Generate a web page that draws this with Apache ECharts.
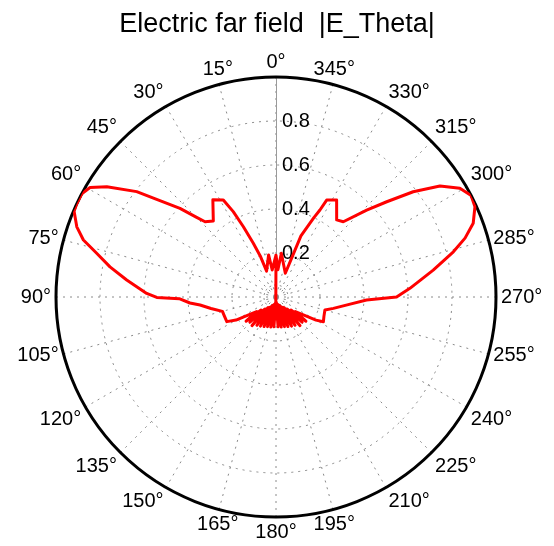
<!DOCTYPE html>
<html>
<head>
<meta charset="utf-8">
<script src="https://cdn.jsdelivr.net/npm/echarts@6/dist/echarts.min.js"></script>
<style>
  html, body { margin: 0; padding: 0; background: #ffffff; }
  #chart { width: 554px; height: 546px; }
</style>
</head>
<body>
<div id="chart"></div>
<script>
// Far-field pattern |E_Theta|, normalised; angle in degrees, counter-clockwise from the top.
const titleText = 'Electric far field  |E_Theta|';
const angleStep = 15;
const radiusStep = 0.2;
const innerRingRadius = 0.055;

// Half-cut drawn on the left side (0° -> 180°)
const leftTheta = [0, 2, 8, 10, 20, 21, 22.9, 24.9, 26.6, 28.5, 33, 39.5, 43.3, 44.9, 47.3, 50.7, 52.9, 56.9, 59.5,
  62, 65, 67, 70.6, 73.5, 76.3, 79.7, 83.5, 88.4, 90.2, 91, 94, 96, 100, 105, 110, 116.6, 120, 124, 127,
  129, 131, 134, 137, 140, 143, 146, 149, 152, 155, 158, 161, 164, 167, 170, 173, 176, 178, 180];
const leftE = [0.19, 0.19, 0.124, 0.194, 0.125, 0.2, 0.265, 0.352, 0.434, 0.502, 0.527, 0.448, 0.47, 0.511, 0.594, 0.701, 0.794, 0.918, 0.981,
  1.0, 1.0, 0.997, 0.96, 0.913, 0.839, 0.767, 0.683, 0.588, 0.542, 0.44, 0.392, 0.347, 0.30, 0.252, 0.25, 0.25, 0.21, 0.14, 0.11,
  0.175, 0.09, 0.165, 0.075, 0.17, 0.06, 0.155, 0.055, 0.15, 0.045, 0.145, 0.04, 0.14, 0.035, 0.138, 0.03, 0.136, 0.025, 0.02];

// Half-cut drawn on the right side (360° -> 180°)
const rightTheta = [360, 356, 353, 338.6, 338, 337.8, 334.5, 333.2, 332.4, 328, 321.8, 318.2, 313.8, 310.7, 307.5, 304.1, 300.6,
  297.5, 294.4, 290.5, 287.3, 284.3, 279.7, 273.7, 270, 268.1, 264, 258.8, 255.1, 248, 242.4, 240, 236, 233,
  231, 229, 226, 223, 220, 217, 214, 211, 208, 205, 202, 199, 196, 193, 190, 187, 184, 182, 180];
const rightE = [0.19, 0.124, 0.2, 0.116, 0.2, 0.3, 0.40, 0.443, 0.497, 0.52, 0.446, 0.459, 0.571, 0.664, 0.786, 0.9, 0.971,
  1.0, 0.993, 0.957, 0.9, 0.832, 0.725, 0.61, 0.548, 0.412, 0.33, 0.266, 0.23, 0.235, 0.243, 0.21, 0.14, 0.11,
  0.175, 0.09, 0.165, 0.075, 0.17, 0.06, 0.155, 0.055, 0.15, 0.045, 0.145, 0.04, 0.14, 0.035, 0.138, 0.03, 0.136, 0.025, 0.02];

const patternData = [];
leftTheta.forEach((t, i) => patternData.push([leftE[i], t]));
rightTheta.forEach((t, i) => patternData.push([rightE[i], t]));

const innerRing = [];
for (let a = 0; a <= 360; a += 5) innerRing.push([innerRingRadius, a]);

const font = 'Liberation Sans, Arial, Helvetica, sans-serif';
const gridGrey = '#8a8a8a';

const chart = echarts.init(document.getElementById('chart'), null, { renderer: 'canvas' });
chart.setOption({
  backgroundColor: '#ffffff',
  animation: false,
  title: {
    text: titleText,
    left: 'center',
    top: 6,
    textStyle: { fontFamily: font, fontSize: 27, fontWeight: 'normal', color: '#000' }
  },
  polar: { center: [276, 297], radius: 220 },
  angleAxis: {
    type: 'value',
    min: 0,
    max: 360,
    interval: angleStep,
    startAngle: 90,
    clockwise: false,
    axisLine: { show: true, lineStyle: { color: '#000', width: 3 } },
    axisTick: { show: false },
    axisLabel: {
      margin: 5,
      align: 'center',
      verticalAlign: 'middle',
      fontFamily: font,
      fontSize: 20,
      color: '#000',
      formatter: v => (v >= 360 ? '' : v + '°')
    },
    splitLine: { show: true, lineStyle: { color: gridGrey, width: 1, type: [2, 5] } }
  },
  radiusAxis: {
    type: 'value',
    min: 0,
    max: 1,
    interval: radiusStep,
    axisLine: { show: true, lineStyle: { color: '#9a9a9a', width: 1 } },
    axisTick: { show: false },
    axisLabel: {
      showMinLabel: false,
      showMaxLabel: false,
      margin: -6,
      align: 'left',
      fontFamily: font,
      fontSize: 20,
      color: '#000',
      formatter: v => v.toFixed(1)
    },
    splitLine: { show: true, lineStyle: { color: gridGrey, width: 1, type: [2, 5] } }
  },
  series: [
    {
      type: 'line',
      coordinateSystem: 'polar',
      data: innerRing,
      showSymbol: false,
      silent: true,
      lineStyle: { color: gridGrey, width: 1, type: [2, 3] },
      z: 1
    },
    {
      name: '|E_Theta|',
      type: 'line',
      coordinateSystem: 'polar',
      data: patternData,
      showSymbol: false,
      lineStyle: { color: '#ff0000', width: 3, join: 'round' },
      z: 5
    }
  ]
});
</script>
</body>
</html>
